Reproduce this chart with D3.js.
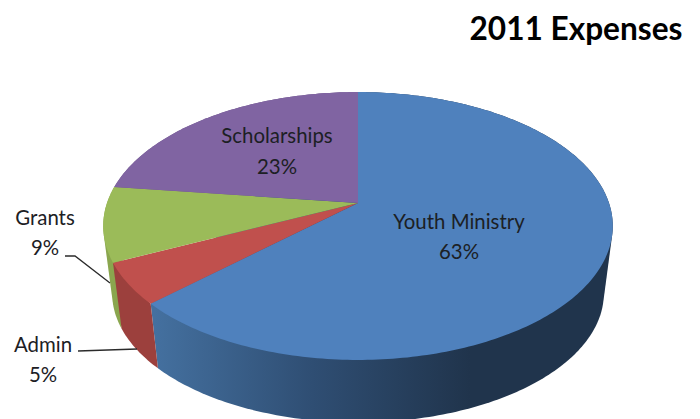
<!DOCTYPE html>
<html>
<head>
<meta charset="utf-8">
<script src="https://cdn.jsdelivr.net/npm/d3@7"></script>
<style>
  html, body { margin: 0; padding: 0; background: #fff; overflow: hidden; }
  text { font-family: Lato, "Open Sans", sans-serif; fill: #1c2024; }
</style>
</head>
<body>
<div id="chart"></div>
<script>
var categories = ["Youth Ministry", "Admin", "Grants", "Scholarships"]
var percents = [63, 5, 9, 23]
var topColors = ["#4f81bd", "#c0504d", "#9bbb59", "#8064a2"]
var wallColors = ["url(#blueWall)", "#9c403d", "#8aa64e", "#6a5387"]

var width = 700, height = 419

var svg = d3.select("#chart").append("svg")
    .attr("width", width)
    .attr("height", height)

var defs = svg.append("defs")
var grad = defs.append("linearGradient")
    .attr("id", "blueWall")
    .attr("gradientUnits", "userSpaceOnUse")
    .attr("x1", 155).attr("x2", 470).attr("y1", 0).attr("y2", 0)
grad.append("stop").attr("offset", "0%").attr("stop-color", "#44709f")
grad.append("stop").attr("offset", "50%").attr("stop-color", "#2f4e73")
grad.append("stop").attr("offset", "100%").attr("stop-color", "#20344c")

// the pie is tilted with perspective, so the centre sits above the middle of the ellipse
var tilt = -0.1716
function project(angle, scale, drop) {
  var X = Math.sin(angle), Y = -Math.cos(angle)
  var w = 1 + tilt * Y
  return [358 + scale * 251 * X / w, 203 + drop + scale * 130 * Y / w]
}

var pie = d3.pie().sort(null).value(function(d) { return d })
var slices = pie(percents)
var line = d3.line()

function arcPoints(d, scale, drop) {
  var steps = Math.max(2, Math.ceil((d.endAngle - d.startAngle) * 60))
  return d3.range(steps + 1).map(function(i) {
    return project(d.startAngle + (d.endAngle - d.startAngle) * i / steps, scale, drop)
  })
}

// walls first, back to front, then the top face goes over them
// hull of both rims so the tangent edges at the sides get filled too
var wallOrder = [3, 2, 0, 1]
svg.selectAll("path.wall")
    .data(wallOrder)
    .enter().append("path")
    .attr("class", "wall")
    .attr("fill", function(i) { return wallColors[i] })
    .attr("d", function(i) {
      var rims = arcPoints(slices[i], 1, 0).concat(arcPoints(slices[i], 0.965, 68))
      return line(d3.polygonHull(rims)) + "Z"
    })

svg.selectAll("path.face")
    .data(slices)
    .enter().append("path")
    .attr("class", "face")
    .attr("fill", function(d, i) { return topColors[i] })
    .attr("d", function(d) {
      return line([[358, 203]].concat(arcPoints(d, 1, 0))) + "Z"
    })

// leader lines for the two outside labels
var leaders = [
  [[65, 256], [75, 256], [110, 283]],
  [[78, 351], [137, 349]]
]
svg.selectAll("path.leader")
    .data(leaders)
    .enter().append("path")
    .attr("class", "leader")
    .attr("fill", "none")
    .attr("stroke", "#2b2b2b")
    .attr("stroke-width", 1.3)
    .attr("d", function(d) { return line(d) })

var labelSpots = [
  { x: 459, y1: 229, y2: 259 },
  { x: 43, y1: 352, y2: 382 },
  { x: 45, y1: 225, y2: 255 },
  { x: 277, y1: 143, y2: 174 }
]
categories.forEach(function(name, i) {
  var spot = labelSpots[i]
  svg.append("text").attr("x", spot.x).attr("y", spot.y1)
    .attr("text-anchor", "middle").attr("font-size", 20.4).text(name)
  svg.append("text").attr("x", spot.x).attr("y", spot.y2)
    .attr("text-anchor", "middle").attr("font-size", 20.4).text(percents[i] + "%")
})

svg.append("text")
    .attr("x", 576).attr("y", 40)
    .attr("text-anchor", "middle")
    .attr("font-size", 31.6)
    .attr("font-weight", "bold")
    .style("fill", "#000")
    .text("2011 Expenses")
</script>
</body>
</html>
